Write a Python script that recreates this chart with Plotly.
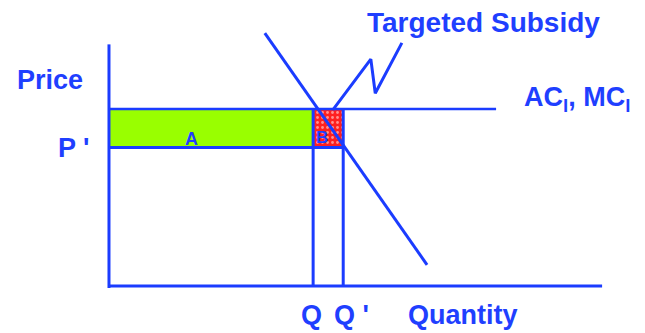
import plotly.graph_objects as go

# schematic values (axis units, origin at the corner of the axes)
q_axis_end = 100.0
p_axis_end = 49.0
q_old = 41.4        # Q
q_new = 47.5        # Q'
p_new = 28.1        # P'
ac_mc = 35.9        # AC_l, MC_l
ac_end = 78.5

demand_q = [31.6, 64.5]
demand_p = [51.3, 4.3]

zigzag_q = [45.4, 53.1, 54.0, 59.4]
zigzag_p = [35.7, 46.0, 39.1, 49.3]

BLUE = "#1b3cff"
TEXT = "#1f3fff"
FONT = "Liberation Sans, Arial, sans-serif"

fig = go.Figure()

# area A: green block between P' and AC up to Q
fig.add_trace(go.Scatter(
    x=[0, q_old, q_old, 0, 0], y=[p_new, p_new, ac_mc, ac_mc, p_new],
    mode="lines", fill="toself", fillcolor="#99ff00",
    line=dict(color="#6f8cff", width=1), hoverinfo="skip"))

# area B: dotted red block between Q and Q'
fig.add_trace(go.Scatter(
    x=[q_old, q_new, q_new, q_old, q_old], y=[p_new, p_new, ac_mc, ac_mc, p_new],
    mode="lines", fill="toself",
    fillpattern=dict(shape=".", bgcolor="#ff2020", fgcolor="#ffffff", size=5, solidity=0.25),
    line=dict(color=BLUE, width=0), hoverinfo="skip"))

def seg(xs, ys, w=3):
    fig.add_trace(go.Scatter(x=xs, y=ys, mode="lines",
                             line=dict(color=BLUE, width=w), hoverinfo="skip"))

# axes
seg([0, 0], [-0.4, p_axis_end])
seg([0, q_axis_end], [0, 0])
# AC/MC line and P' line
seg([0, ac_end], [ac_mc, ac_mc], 2.5)
seg([0, q_new], [p_new, p_new])
# Q and Q' drop lines
seg([q_old, q_old], [0, ac_mc])
seg([q_new, q_new], [0, ac_mc])
# demand
seg(demand_q, demand_p)
# pointer to the subsidy label
seg(zigzag_q, zigzag_p)

labels = [
    ("Price", -12.0, 41.8, "center", 27),
    ("P '", -3.6, 28.0, "right", 27),
    ("A", 16.8, 29.8, "center", 18),
    ("B", 43.2, 30.1, "center", 17),
    ("Q", 41.0, -5.9, "center", 27),
    ("Q '", 49.1, -5.9, "center", 27),
    ("Quantity", 71.8, -5.9, "center", 27),
    ("AC<sub>l</sub>, MC<sub>l</sub>", 83.8, 37.9, "left", 27),
    ("Targeted Subsidy", 75.9, 53.5, "center", 28),
]
for text, x, y, anchor, size in labels:
    fig.add_annotation(x=x, y=y, text="<b>" + text + "</b>", showarrow=False,
                       xanchor=anchor, yanchor="middle",
                       font=dict(family=FONT, size=size, color=TEXT))

fig.update_xaxes(visible=False, range=[-22.1, 108.7], fixedrange=True)
fig.update_yaxes(visible=False, range=[-9.53, 58.0], fixedrange=True)
fig.update_layout(width=645, height=333, margin=dict(l=0, r=0, t=0, b=0),
                  plot_bgcolor="white", paper_bgcolor="white", showlegend=False)

# drop the default page margin so the figure sits at the window corner
fig.write_html("out.html", config={"displayModeBar": False},
               post_script="document.body.style.margin='0';")
